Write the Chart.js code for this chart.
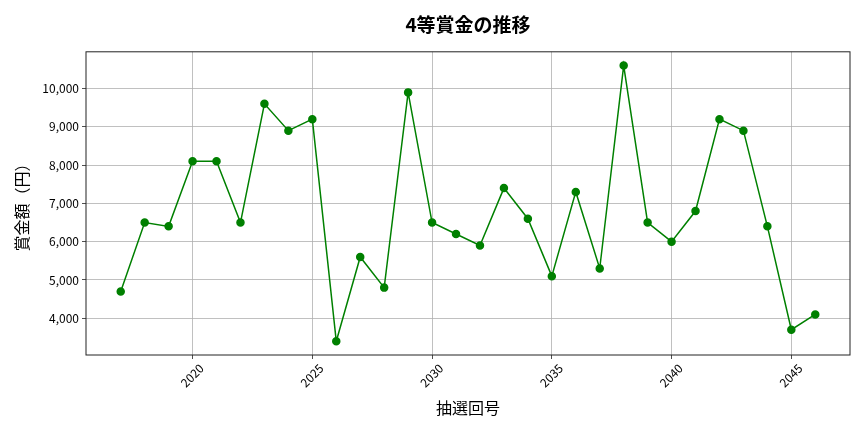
<!DOCTYPE html>
<html>
<head>
<meta charset="utf-8">
<script src="https://cdn.jsdelivr.net/npm/chart.js@4"></script>
<style>
  html, body { margin: 0; padding: 0; background: #fff; }
  #wrap { width: 864px; height: 432px; }
</style>
</head>
<body>
<div id="wrap"><canvas id="prizeChart"></canvas></div>
<script>
var draws = [2017, 2018, 2019, 2020, 2021, 2022, 2023, 2024, 2025, 2026,
             2027, 2028, 2029, 2030, 2031, 2032, 2033, 2034, 2035, 2036,
             2037, 2038, 2039, 2040, 2041, 2042, 2043, 2044, 2045, 2046];
var prizes = [4700, 6500, 6400, 8100, 8100, 6500, 9600, 8900, 9200, 3400,
              5600, 4800, 9900, 6500, 6200, 5900, 7400, 6600, 5100, 7300,
              5300, 10600, 6500, 6000, 6800, 9200, 8900, 6400, 3700, 4100];
var xTicks = [2020, 2025, 2030, 2035, 2040, 2045];
var yTicks = [4000, 5000, 6000, 7000, 8000, 9000, 10000];

var font = "'Noto Sans CJK JP', 'Noto Sans', sans-serif";

// matplotlib style frame around the plot area
var frame = {
    id: 'frame',
    afterDraw: function(chart) {
        var a = chart.chartArea;
        var ctx = chart.ctx;
        ctx.save();
        ctx.strokeStyle = '#222';
        ctx.lineWidth = 1;
        ctx.strokeRect(a.left, a.top, a.right - a.left, a.bottom - a.top);
        ctx.restore();
    }
};

var points = draws.map(function(d, i) { return { x: d, y: prizes[i] }; });

new Chart("prizeChart", {
    type: "line",
    data: {
        datasets: [{
            data: points,
            borderColor: "#008000",
            backgroundColor: "#008000",
            borderWidth: 1.5,
            pointRadius: 3.5,
            pointHoverRadius: 3.5,
            tension: 0
        }]
    },
    options: {
        responsive: true,
        maintainAspectRatio: false,
        animation: false,
        layout: { padding: { left: 0, right: 14, top: 0, bottom: 0 } },
        plugins: {
            legend: { display: false },
            tooltip: { enabled: false },
            title: {
                display: true,
                fullSize: false,
                text: "4等賞金の推移",
                color: "#000",
                font: { family: font, size: 19, weight: "bold", lineHeight: 1.2 },
                padding: { top: 13, bottom: 16 }
            }
        },
        scales: {
            x: {
                type: "linear",
                min: 2015.55,
                max: 2047.45,
                afterBuildTicks: function(s) { s.ticks = xTicks.map(function(v) { return { value: v }; }); },
                afterFit: function(s) { s.height = 77; },
                border: { display: false },
                grid: { color: "#b0b0b0", lineWidth: 0.8, tickColor: "#222", tickLength: 4 },
                ticks: {
                    color: "#000",
                    font: { family: font, size: 12 },
                    maxRotation: 45,
                    minRotation: 45,
                    padding: 2,
                    labelOffset: 9,
                    callback: function(v) { return String(v); }
                },
                title: {
                    display: true,
                    text: "抽選回号",
                    color: "#000",
                    font: { family: font, size: 16 },
                    padding: { top: 4, bottom: 14 }
                }
            },
            y: {
                min: 3040,
                max: 10960,
                afterBuildTicks: function(s) { s.ticks = yTicks.map(function(v) { return { value: v }; }); },
                afterFit: function(s) { s.width = 86; },
                border: { display: false },
                grid: { color: "#b0b0b0", lineWidth: 0.8, tickColor: "#222", tickLength: 4 },
                ticks: {
                    color: "#000",
                    font: { family: font, size: 12 },
                    padding: 3,
                    callback: function(v) { return v.toLocaleString("en-US"); }
                },
                title: {
                    display: true,
                    text: "賞金額（円）",
                    color: "#000",
                    font: { family: font, size: 16 },
                    padding: { top: 12, bottom: 0 }
                }
            }
        }
    },
    plugins: [frame]
});
</script>
</body>
</html>
